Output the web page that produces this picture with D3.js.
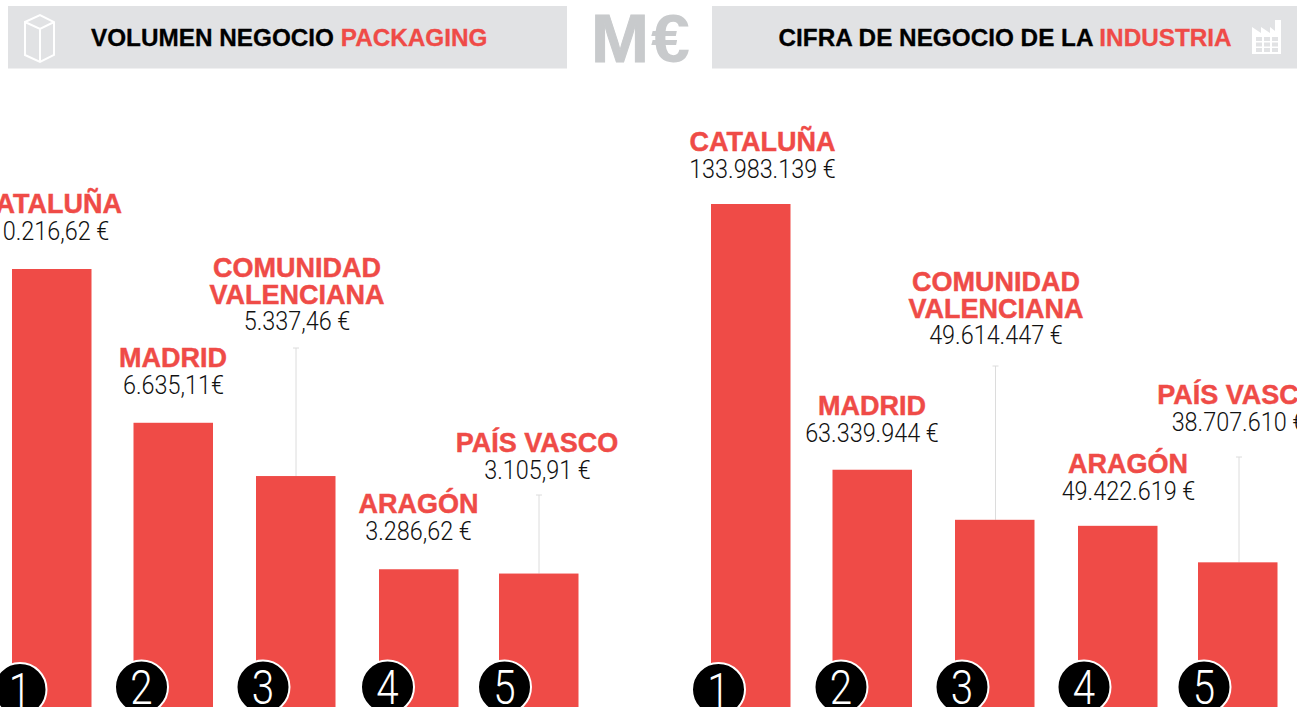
<!DOCTYPE html>
<html><head><meta charset="utf-8">
<script src="https://cdn.jsdelivr.net/npm/d3@7/dist/d3.min.js"></script>
<style>
html,body{margin:0;padding:0;background:#fff;overflow:hidden}
svg{display:block}
text{font-family:"Liberation Sans",Arial,sans-serif}
.name{font-weight:700;fill:#ef4b47;stroke:#ef4b47;stroke-width:.45px;font-size:27px;text-anchor:middle}
.val{font-family:Roboto,sans-serif;font-weight:300;fill:#111;font-size:26px;text-anchor:middle}
.num{font-family:Roboto,sans-serif;font-weight:300;fill:#fff;font-size:48px;text-anchor:middle}
.head{font-weight:700;font-size:24.3px;fill:#000;stroke:#000;stroke-width:.3px}
.head .r{fill:#ef4b47;stroke:#ef4b47}
</style></head><body>
<svg id="c" width="1297" height="707"></svg>
<script>
// Regions and printed labels
const ranks = [1, 2, 3, 4, 5];
const regionLines = [["CATALUÑA"], ["MADRID"], ["COMUNIDAD", "VALENCIANA"], ["ARAGÓN"], ["PAÍS VASCO"]];
const packagingLabels = ["10.216,62 €", "6.635,11€", "5.337,46 €", "3.286,62 €", "3.105,91 €"];
const industriaLabels = ["133.983.139 €", "63.339.944 €", "49.614.447 €", "49.422.619 €", "38.707.610 €"];
// Bar lengths (the printed labels are not exactly proportional to them)
const packagingBars = [10220, 6640, 5400, 3230, 3130];
const industriaBars = [133900, 63300, 50000, 48400, 38700];

const svg = d3.select("#c");
const RED = "#ef4b47", GREY = "#e1e2e4", MARK = "#c8cacc";

function squeeze(sel, k) {
  sel.each(function () {
    const n = this.getComputedTextLength();
    d3.select(this).attr("textLength", n * k).attr("lengthAdjust", "spacingAndGlyphs");
  });
  return sel;
}

// header
svg.append("rect").attr("x", 8).attr("y", 6).attr("width", 559).attr("height", 62.5).attr("fill", GREY);
svg.append("rect").attr("x", 712).attr("y", 6).attr("width", 585).attr("height", 62.5).attr("fill", GREY);
function head(x, black, red) {
  const t = svg.append("text").attr("class", "head").attr("x", x).attr("y", 46);
  t.append("tspan").text(black + " ");
  t.append("tspan").attr("class", "r").text(red);
}
head(91, "VOLUMEN NEGOCIO", "PACKAGING");
head(778.5, "CIFRA DE NEGOCIO DE LA", "INDUSTRIA");
svg.append("text").attr("x", 591).attr("y", 61.5).attr("font-size", 68).attr("font-weight", 700).attr("fill", MARK).attr("stroke", MARK).attr("stroke-width", 1).text("M").attr("textLength", 58).attr("lengthAdjust", "spacingAndGlyphs");
svg.append("text").attr("x", 651).attr("y", 61.5).attr("font-size", 68).attr("font-weight", 700).attr("fill", MARK).text("€").attr("textLength", 39).attr("lengthAdjust", "spacingAndGlyphs");

// box icon
svg.append("path").attr("d", "M25,22 L40,15 L54,22 L54,55 L40,62 L25,55 Z M25,22 L40,29 L54,22 M40,29 L40,62")
  .attr("fill", "none").attr("stroke", "#fff").attr("stroke-width", 2);
// factory icon
const f = svg.append("g");
f.append("path").attr("fill", "#fff").attr("d", "M1252,54 L1252,27 L1261,33 L1261,27 L1270,33 L1270,27 L1275,31 L1275,20 L1281,20 L1281,54 Z");
d3.range(3).forEach(r => d3.range(3).forEach(c =>
  f.append("rect").attr("x", 1256 + c * 8).attr("y", 37 + r * 5.5).attr("width", 6).attr("height", 4).attr("fill", GREY)));

function chart(cfg) {
  const x = d3.scaleLinear().domain(ranks).range(cfg.barLefts);
  const y = d3.scaleLinear().domain([0, cfg.refValue]).range([cfg.base, cfg.refTop]);
  const g = svg.append("g");
  // leaders
  cfg.leaders.forEach(l => {
    g.append("line").attr("x1", l.x).attr("x2", l.x).attr("y1", l.top).attr("y2", y(cfg.bars[l.i])).attr("stroke", "#dcdcdc");
    g.append("line").attr("x1", l.x - 3).attr("x2", l.x + 3).attr("y1", l.top).attr("y2", l.top).attr("stroke", "#dcdcdc");
  });
  g.selectAll("rect.bar").data(ranks).join("rect").attr("class", "bar")
    .attr("x", r => x(r)).attr("width", 79.5)
    .attr("y", (r, i) => y(cfg.bars[i])).attr("height", (r, i) => cfg.base - y(cfg.bars[i]))
    .attr("fill", RED);
  // labels
  ranks.forEach((r, i) => {
    const p = cfg.labels[i];
    const extra = regionLines[i].length - 1;
    const cx = x(r) + cfg.circleDx[i];
    const cy = r === 1 ? 689.5 : 687;
    regionLines[i].forEach((s, k) => g.append("text").attr("class", "name").attr("x", p[0]).attr("y", p[1] + k * cfg.lineGap).text(s));
    squeeze(g.append("text").attr("class", "val").attr("x", p[2]).attr("y", p[1] + extra * cfg.lineGap + (extra ? 26 : 27)).text(cfg.vals[i]), 0.9);
    g.append("circle").attr("cx", cx).attr("cy", cy).attr("r", 26.5).attr("fill", "#000").attr("stroke", "#fff").attr("stroke-width", 2);
    squeeze(g.append("text").attr("class", "num").attr("x", cx).attr("y", cy + 17).text(r), 0.84);
  });
}
chart({
  barLefts: [12, 133.5, 256, 379, 499], bars: packagingBars, vals: packagingLabels,
  refValue: 10220, refTop: 269, base: 708, lineGap: 27,
  leaders: [{ i: 2, x: 296, top: 348 }, { i: 4, x: 539, top: 495 }],
  labels: [[49, 213, 49.5], [173, 367, 173.5], [297, 277, 297], [418.5, 513, 418.5], [537, 452, 537.5]],
  circleDx: [8, 8, 7, 8.5, 5.5]
});
chart({
  barLefts: [711, 832.5, 955, 1078, 1198], bars: industriaBars, vals: industriaLabels,
  refValue: 133900, refTop: 204, base: 708, lineGap: 26.5,
  leaders: [{ i: 2, x: 995.5, top: 366 }, { i: 4, x: 1239, top: 457 }],
  labels: [[762.5, 151, 762.5], [872, 415, 872], [996, 291, 996], [1128, 473, 1128.5], [1238.5, 404, 1238.5]],
  circleDx: [7.5, 8.5, 7, 6, 6]
});
</script></body></html>
